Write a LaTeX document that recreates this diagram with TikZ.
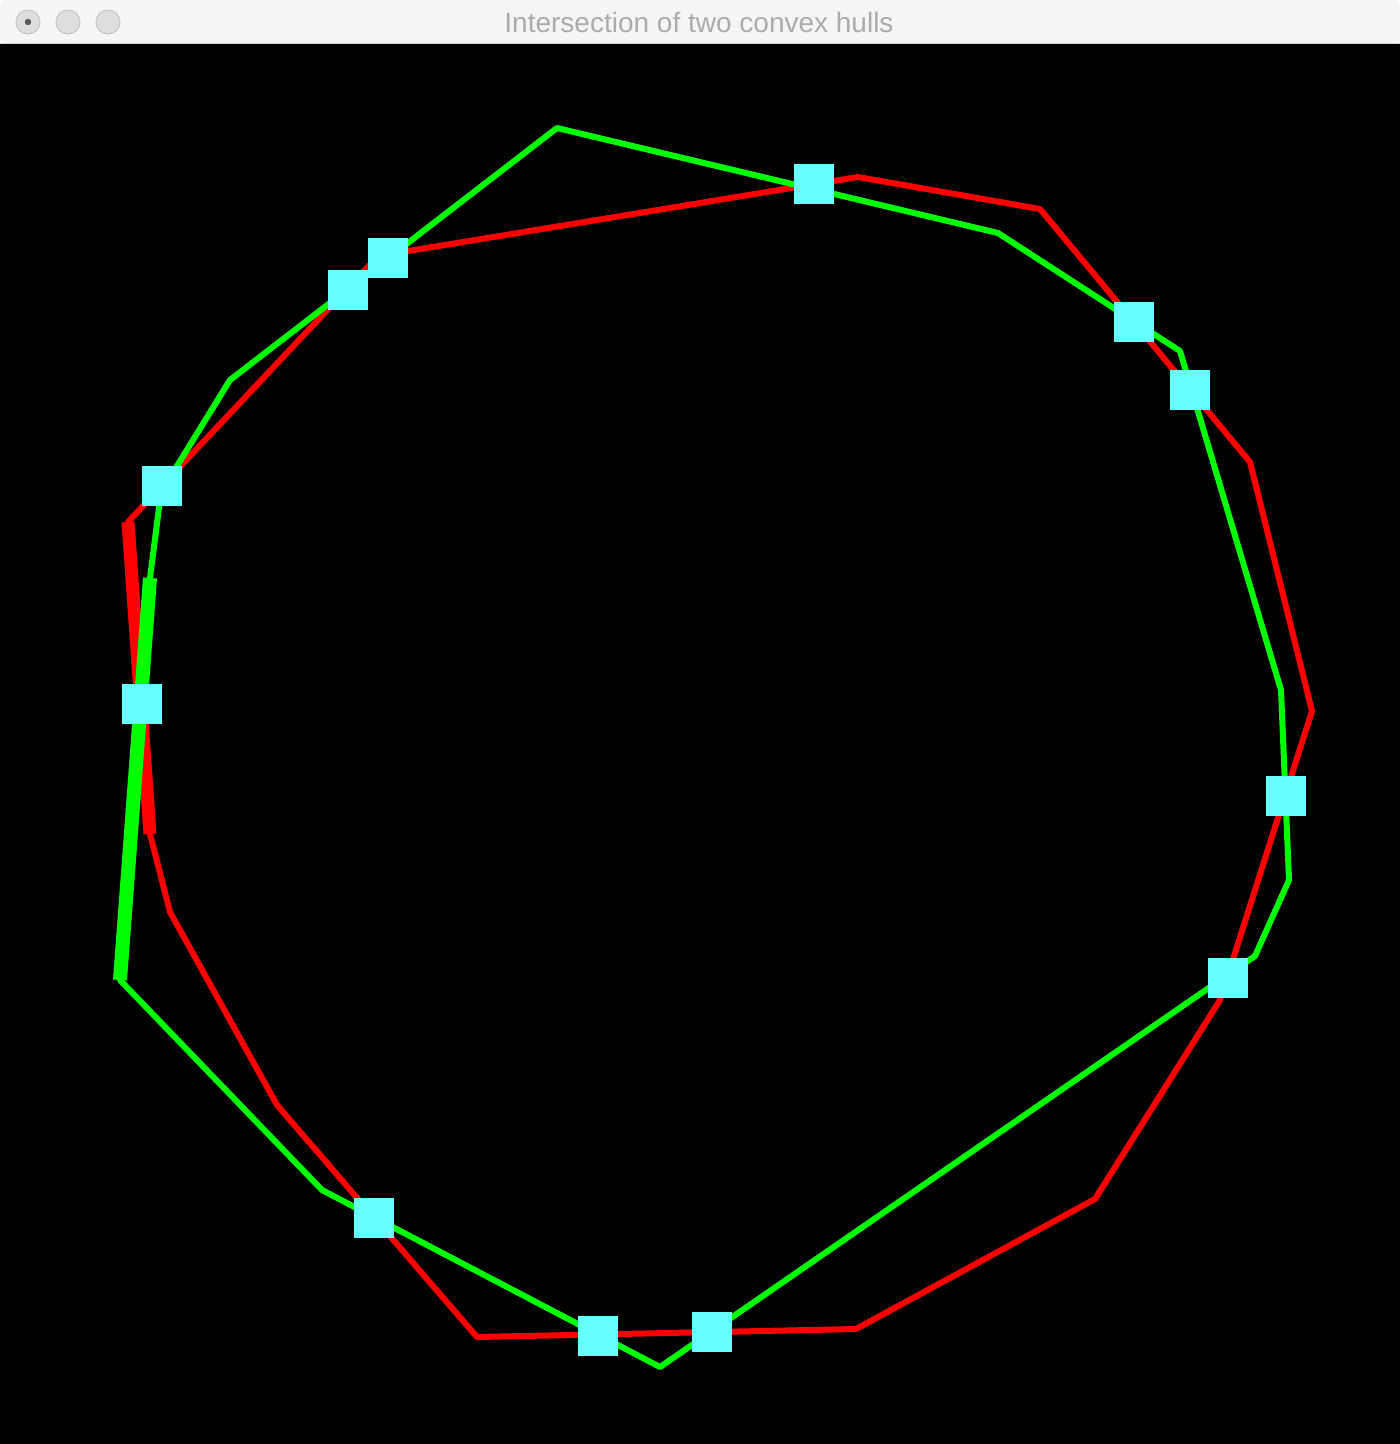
\documentclass[tikz,border=0pt]{standalone}
\usepackage{fontspec}
\setmainfont{Liberation Sans}
\definecolor{barbg}{HTML}{F5F5F5}
\definecolor{barline}{HTML}{D2D2D2}
\definecolor{titlegray}{HTML}{ABABAB}
\definecolor{btnfill}{HTML}{DDDDDD}
\definecolor{btnline}{HTML}{C6C6C6}
\definecolor{btndot}{HTML}{5A5A5A}
\definecolor{hullred}{HTML}{FF0000}
\definecolor{hullgreen}{HTML}{00FF00}
\definecolor{hitcyan}{HTML}{66FFFF}
\begin{document}
\begin{tikzpicture}[x=1pt,y=-1pt,
  redhull/.style={draw=hullred,line width=6pt,line join=round},
  greenhull/.style={draw=hullgreen,line width=6pt,line join=round},
  redthick/.style={draw=hullred,line width=13pt},
  greenthick/.style={draw=hullgreen,line width=14pt},
  hit/.style={rectangle,fill=hitcyan,minimum width=40pt,minimum height=40pt,inner sep=0pt,outer sep=0pt},
  winbtn/.style={circle,fill=btnfill,draw=btnline,line width=1pt,minimum size=24pt,inner sep=0pt}]
\useasboundingbox (0,0) rectangle (1400,1444);
\fill[white] (0,0) rectangle (1400,1444);
% window title bar
\fill[barbg,rounded corners=6pt] (0,44) -- (0,0) -- (1400,0) -- (1400,44) -- cycle;
\fill[black] (0,44) rectangle (1400,1444);
\draw[barline,line width=1pt] (0,43.5) -- (1400,43.5);
\node[winbtn] (b1) at (28,22) {};
\node[winbtn] (b2) at (68,22) {};
\node[winbtn] (b3) at (108,22) {};
\fill[btndot] (b1.center) circle (3.2pt);
\node[anchor=base,text=titlegray,font=\fontsize{28}{30}\selectfont,inner sep=0pt] (title) at (699,32.3) {Intersection of two convex hulls};
% red hull vertices
\coordinate (r1) at (858,177);
\coordinate (r2) at (1040,209);
\coordinate (r3) at (1250,462);
\coordinate (r4) at (1312,711);
\coordinate (r5) at (1220,1000);
\coordinate (r6) at (1095,1199);
\coordinate (r7) at (856,1329);
\coordinate (r8) at (477,1337);
\coordinate (r9) at (277,1105);
\coordinate (r10) at (170,912);
\coordinate (r11) at (150,834);
\coordinate (r12) at (128,522);
\coordinate (r13) at (378,256);
% green hull vertices
\coordinate (g1) at (557,128);
\coordinate (g2) at (998,233);
\coordinate (g3) at (1180,351);
\coordinate (g4) at (1281,690);
\coordinate (g5) at (1289,880);
\coordinate (g6) at (1255,956);
\coordinate (g7) at (660,1367);
\coordinate (g8) at (322,1190);
\coordinate (g9) at (120,980);
\coordinate (g10) at (150,578);
\coordinate (g11) at (161,492);
\coordinate (g12) at (230,380);
% red hull
\draw[redhull] (r1) -- (r2) -- (r3) -- (r4) -- (r5) -- (r6) -- (r7) -- (r8) -- (r9) -- (r10) -- (r11) -- (r12) -- (r13) -- cycle;
\draw[redthick] (r11) -- (r12);
% green hull
\draw[greenhull] (g1) -- (g2) -- (g3) -- (g4) -- (g5) -- (g6) -- (g7) -- (g8) -- (g9) -- (g10) -- (g11) -- (g12) -- cycle;
\draw[greenthick] (g9) -- (g10);
% intersection points
\node[hit] (s1) at (814,184) {};
\node[hit] (s2) at (388,258) {};
\node[hit] (s3) at (348,290) {};
\node[hit] (s4) at (162,486) {};
\node[hit] (s5) at (142,704) {};
\node[hit] (s6) at (1134,322) {};
\node[hit] (s7) at (1190,390) {};
\node[hit] (s8) at (1286,796) {};
\node[hit] (s9) at (1228,978) {};
\node[hit] (s10) at (374,1218) {};
\node[hit] (s11) at (598,1336) {};
\node[hit] (s12) at (712,1332) {};
\end{tikzpicture}
\end{document}
